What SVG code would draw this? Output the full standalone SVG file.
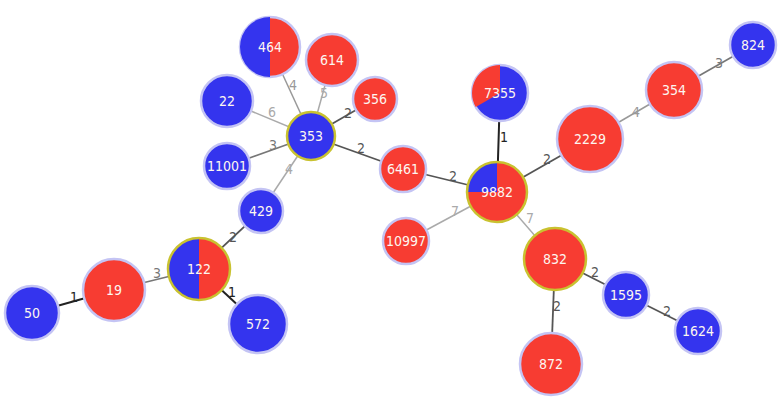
<svg xmlns="http://www.w3.org/2000/svg" width="781" height="401" viewBox="0 0 781 401">
<style>
.n{stroke:#c4c4f4;stroke-width:2.5}
.b{fill:#3434ee}
.r{fill:#f73c32}
.y{fill:none;stroke:#c9c230;stroke-width:2.5}
.t{font-family:"DejaVu Sans Condensed","DejaVu Sans",sans-serif;font-stretch:condensed;font-size:14px;fill:#fdf6f0;text-anchor:middle}
.l{font-family:"DejaVu Sans Condensed","DejaVu Sans",sans-serif;font-stretch:condensed;font-size:14px;text-anchor:middle}
.e1{stroke:#222;stroke-width:2}
.e2{stroke:#555;stroke-width:1.8}
.e3{stroke:#777;stroke-width:1.6}
.e4{stroke:#999;stroke-width:1.5}
.e5{stroke:#aaa;stroke-width:1.5}
</style>
<rect width="781" height="401" fill="#fff"/>
<g id="edges">
<line class="e4" x1="270" y1="47" x2="311" y2="136"/>
<line class="e5" x1="332" y1="60" x2="311" y2="136"/>
<line class="e2" x1="375" y1="99" x2="311" y2="136"/>
<line class="e5" x1="227" y1="101" x2="311" y2="136"/>
<line class="e3" x1="227" y1="166" x2="311" y2="136"/>
<line class="e5" x1="261" y1="211" x2="311" y2="136"/>
<line class="e2" x1="403" y1="169" x2="311" y2="136"/>
<line class="e2" x1="403" y1="169" x2="497" y2="192"/>
<line class="e1" x1="500" y1="93" x2="497" y2="192"/>
<line class="e2" x1="590" y1="139" x2="497" y2="192"/>
<line class="e5" x1="406" y1="241" x2="497" y2="192"/>
<line class="e5" x1="555" y1="259" x2="497" y2="192"/>
<line class="e4" x1="674" y1="90" x2="590" y2="139"/>
<line class="e3" x1="753" y1="45" x2="674" y2="90"/>
<line class="e2" x1="555" y1="259" x2="626" y2="295"/>
<line class="e2" x1="626" y1="295" x2="698" y2="331"/>
<line class="e2" x1="555" y1="259" x2="551" y2="364"/>
<line class="e2" x1="199" y1="269" x2="261" y2="211"/>
<line class="e3" x1="199" y1="269" x2="114" y2="290"/>
<line class="e1" x1="199" y1="269" x2="258" y2="324"/>
<line class="e1" x1="114" y1="290" x2="32" y2="313"/>
<text class="l" x="293" y="90" fill="#999">4</text>
<text class="l" x="324" y="98" fill="#aaa">5</text>
<text class="l" x="348" y="118" fill="#555">2</text>
<text class="l" x="272" y="117" fill="#aaa">6</text>
<text class="l" x="273" y="150" fill="#777">3</text>
<text class="l" x="289" y="174" fill="#aaa">4</text>
<text class="l" x="361" y="153" fill="#555">2</text>
<text class="l" x="453" y="181" fill="#555">2</text>
<text class="l" x="504" y="142" fill="#222">1</text>
<text class="l" x="547" y="164" fill="#555">2</text>
<text class="l" x="455" y="216" fill="#aaa">7</text>
<text class="l" x="530" y="223" fill="#aaa">7</text>
<text class="l" x="636" y="117" fill="#999">4</text>
<text class="l" x="719" y="68" fill="#777">3</text>
<text class="l" x="595" y="277" fill="#555">2</text>
<text class="l" x="667" y="316" fill="#555">2</text>
<text class="l" x="557" y="311" fill="#555">2</text>
<text class="l" x="233" y="242" fill="#555">2</text>
<text class="l" x="157" y="278" fill="#777">3</text>
<text class="l" x="232" y="297" fill="#222">1</text>
<text class="l" x="74" y="302" fill="#222">1</text>
</g>
<g id="n464"><circle class="n r" cx="270" cy="47" r="30"/><path class="b" d="M270,17 A30,30 0 0 0 270,77 Z"/><text class="t" x="270" y="52">464</text></g>
<g id="n614"><circle class="n r" cx="332" cy="60" r="26"/><text class="t" x="332" y="65">614</text></g>
<g id="n356"><circle class="n r" cx="375" cy="99" r="22"/><text class="t" x="375" y="104">356</text></g>
<g id="n22"><circle class="n b" cx="227" cy="101" r="26"/><text class="t" x="227" y="106">22</text></g>
<g id="n11001"><circle class="n b" cx="227" cy="166" r="23"/><text class="t" x="227" y="171">11001</text></g>
<g id="n353"><circle class="b" cx="311" cy="136" r="24"/><circle class="y" cx="311" cy="136" r="24"/><text class="t" x="311" y="141">353</text></g>
<g id="n429"><circle class="n b" cx="261" cy="211" r="22"/><text class="t" x="261" y="216">429</text></g>
<g id="n6461"><circle class="n r" cx="403" cy="169" r="23"/><text class="t" x="403" y="174">6461</text></g>
<g id="n7355"><circle class="n b" cx="500" cy="93" r="28"/><path class="r" d="M500,93 L500,65 A28,28 0 0 0 475.75,107 Z"/><text class="t" x="500" y="98">7355</text></g>
<g id="n9882"><circle class="r" cx="497" cy="192" r="30"/><path class="b" d="M497,192 L467,192 A30,30 0 0 1 497,162 Z"/><circle class="y" cx="497" cy="192" r="30"/><text class="t" x="497" y="197">9882</text></g>
<g id="n2229"><circle class="n r" cx="590" cy="139" r="33"/><text class="t" x="590" y="144">2229</text></g>
<g id="n354"><circle class="n r" cx="674" cy="90" r="28"/><text class="t" x="674" y="95">354</text></g>
<g id="n824"><circle class="n b" cx="753" cy="45" r="23"/><text class="t" x="753" y="50">824</text></g>
<g id="n10997"><circle class="n r" cx="406" cy="241" r="23"/><text class="t" x="406" y="246">10997</text></g>
<g id="n832"><circle class="r" cx="555" cy="259" r="31"/><circle class="y" cx="555" cy="259" r="31"/><text class="t" x="555" y="264">832</text></g>
<g id="n1595"><circle class="n b" cx="626" cy="295" r="23"/><text class="t" x="626" y="300">1595</text></g>
<g id="n1624"><circle class="n b" cx="698" cy="331" r="23"/><text class="t" x="698" y="336">1624</text></g>
<g id="n872"><circle class="n r" cx="551" cy="364" r="31"/><text class="t" x="551" y="369">872</text></g>
<g id="n122"><circle class="r" cx="199" cy="269" r="31"/><path class="b" d="M199,238 A31,31 0 0 0 199,300 Z"/><circle class="y" cx="199" cy="269" r="31"/><text class="t" x="199" y="274">122</text></g>
<g id="n19"><circle class="n r" cx="114" cy="290" r="31"/><text class="t" x="114" y="295">19</text></g>
<g id="n50"><circle class="n b" cx="32" cy="313" r="27"/><text class="t" x="32" y="318">50</text></g>
<g id="n572"><circle class="n b" cx="258" cy="324" r="29"/><text class="t" x="258" y="329">572</text></g>
</svg>
